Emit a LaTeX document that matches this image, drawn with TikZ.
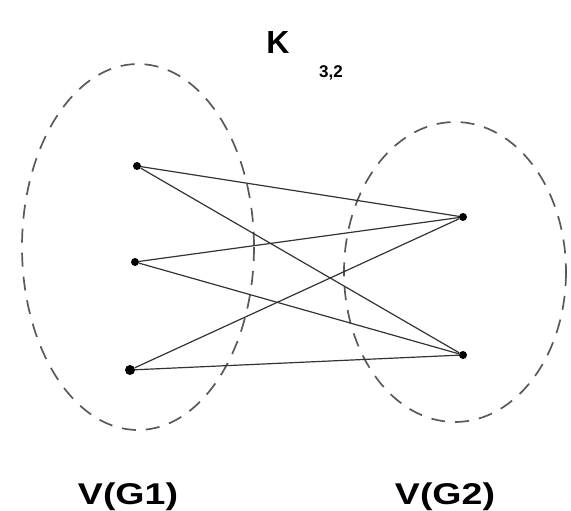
\documentclass[tikz,border=0pt]{standalone}
\usepackage{fontspec}
\setmainfont{Liberation Sans}
\begin{document}
\begin{tikzpicture}[x=1pt,y=-1pt,
  vtx/.style={circle,fill=black,inner sep=0pt,minimum size=8pt},
  edge/.style={draw=black!80,line width=1.2pt},
  grp/.style={draw=black!65,line width=1.7pt,dash pattern=on 14pt off 10pt},
  lbl/.style={font=\fontsize{30}{30}\selectfont\bfseries,xscale=1.25,inner sep=0pt}]
\useasboundingbox (0,0) rectangle (571,511);
\draw[grp] (138,247) ellipse [x radius=116, y radius=183];
\draw[grp] (455,272) ellipse [x radius=111, y radius=150];
\node[vtx] (a1) at (137,166) {};
\node[vtx] (a2) at (135,262) {};
\node[vtx,minimum size=10pt] (a3) at (130,370) {};
\node[vtx] (b1) at (463,217) {};
\node[vtx] (b2) at (463,355) {};
\foreach \u in {a1,a2,a3}{\foreach \v in {b1,b2}{\draw[edge] (\u) -- (\v);}}
\node[font=\fontsize{32}{32}\selectfont\bfseries,inner sep=0pt] (k) at (278,42) {K};
\node[font=\fontsize{17}{17}\selectfont\bfseries,inner sep=0pt] (sub) at (331,73) {3,2};
\node[lbl] (g1) at (128,497) {V(G1)};
\node[lbl] (g2) at (445,497) {V(G2)};
\end{tikzpicture}
\end{document}
